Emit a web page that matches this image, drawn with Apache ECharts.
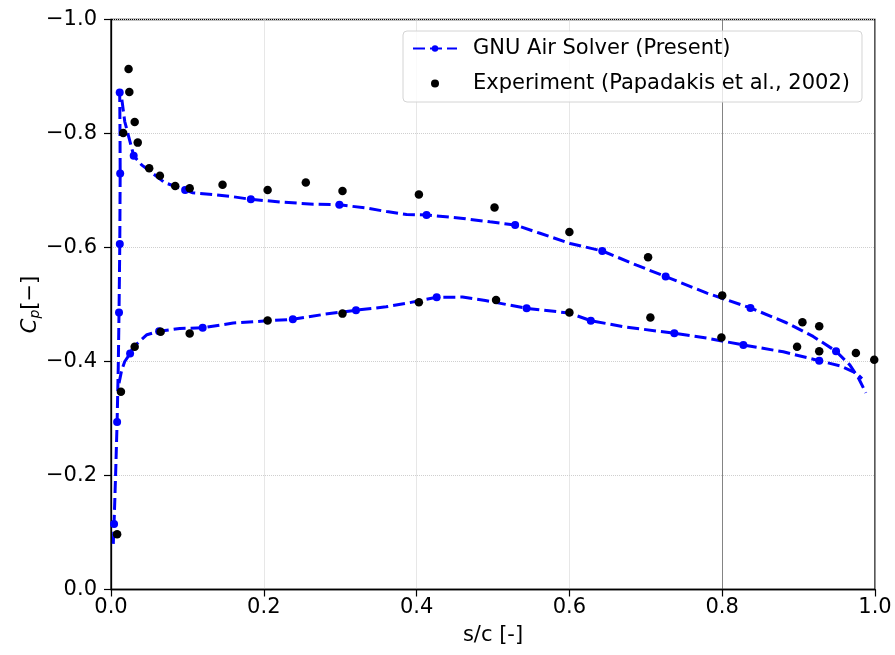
<!DOCTYPE html>
<html>
<head>
<meta charset="utf-8">
<script src="https://cdn.jsdelivr.net/npm/echarts@6/dist/echarts.min.js"></script>
<style>
  html, body { margin: 0; padding: 0; background: #fff; }
  #chart { width: 895px; height: 655px; }
</style>
</head>
<body>
<div id="chart"></div>
<script>
// Solver, suction side: rise along the leading edge, then aft to the trailing edge
const upperS = [0.003, 0.004, 0.006, 0.008, 0.0095, 0.0105, 0.0115, 0.012, 0.0118, 0.0114,
  0.014, 0.018, 0.0297, 0.040, 0.050, 0.070, 0.097, 0.107, 0.134, 0.160,
  0.183, 0.221, 0.265, 0.299, 0.335, 0.361, 0.387, 0.413, 0.461, 0.496,
  0.529, 0.5615, 0.601, 0.643, 0.688, 0.726, 0.780, 0.837, 0.884, 0.919,
  0.949, 0.967, 0.978, 0.988];
const upperCp = [-0.080, -0.115, -0.200, -0.294, -0.390, -0.486, -0.606, -0.730, -0.800, -0.872,
  -0.862, -0.821, -0.761, -0.745, -0.735, -0.714, -0.701, -0.696, -0.693, -0.689,
  -0.6845, -0.680, -0.676, -0.675, -0.669, -0.663, -0.658, -0.657, -0.651, -0.645,
  -0.6395, -0.625, -0.607, -0.594, -0.569, -0.549, -0.520, -0.494, -0.468, -0.444,
  -0.418, -0.394, -0.372, -0.345];
// points of the suction-side curve that carry a marker
const upperMarks = [1, 3, 5, 6, 7, 9, 12, 16, 20, 23, 27, 30, 33, 35, 37, 40];

// Solver, pressure side
const lowerS = [0.0105, 0.014, 0.018, 0.025, 0.029, 0.047, 0.063, 0.090, 0.120, 0.160,
  0.200, 0.238, 0.280, 0.3207, 0.360, 0.390, 0.4263, 0.460, 0.490, 0.544,
  0.600, 0.628, 0.671, 0.7373, 0.780, 0.8277, 0.880, 0.927, 0.955, 0.975, 0.983];
const lowerCp = [-0.362, -0.385, -0.400, -0.414, -0.425, -0.447, -0.453, -0.458, -0.459, -0.4675,
  -0.471, -0.474, -0.483, -0.490, -0.496, -0.503, -0.5126, -0.513, -0.507, -0.4933,
  -0.485, -0.4716, -0.461, -0.4495, -0.441, -0.429, -0.417, -0.4014, -0.392, -0.380, -0.370];
const lowerMarks = [3, 6, 8, 11, 13, 16, 19, 21, 23, 25, 27];

// Measured pressure coefficients (Papadakis et al., 2002)
const expS = [0.008, 0.013, 0.016, 0.023, 0.024, 0.031, 0.031, 0.035, 0.050, 0.065,
  0.064, 0.084, 0.103, 0.103, 0.146, 0.205, 0.205, 0.255, 0.303, 0.303,
  0.403, 0.403, 0.502, 0.504, 0.600, 0.600, 0.703, 0.706, 0.799, 0.800,
  0.898, 0.905, 0.927, 0.927, 0.975, 0.999];
const expCp = [-0.097, -0.347, -0.801, -0.913, -0.873, -0.426, -0.820, -0.784, -0.739, -0.452,
  -0.726, -0.708, -0.704, -0.449, -0.710, -0.701, -0.472, -0.714, -0.699, -0.484,
  -0.693, -0.504, -0.670, -0.508, -0.627, -0.486, -0.583, -0.477, -0.442, -0.516,
  -0.426, -0.469, -0.462, -0.418, -0.415, -0.403];

const xTicks = [0.0, 0.2, 0.4, 0.6, 0.8, 1.0];
const yTicks = [-1.0, -0.8, -0.6, -0.4, -0.2, 0.0];

const SOLVER = 'GNU Air Solver (Present)';
const EXPERIMENT = 'Experiment (Papadakis et al., 2002)';
const FONT = 'DejaVu Sans';
const FS = 21;
const BLUE = '#0000ff';

const zip = (xs, ys) => xs.map((x, i) => [x, ys[i]]);
const pick = (xs, ys, idx) => idx.map(i => [xs[i], ys[i]]);
const fmt = v => {
  const s = Math.abs(v) < 1e-9 ? '0.0' : v.toFixed(1);
  return s.replace('-', '\u2212');
};

const solverLine = {
  type: 'line',
  name: SOLVER,
  showSymbol: false,
  symbol: 'circle',
  symbolSize: 8,
  smooth: false,
  itemStyle: { color: BLUE, opacity: 1 },
  lineStyle: { color: BLUE, width: 3, type: [12, 5], opacity: 1 },
  silent: true,
  z: 2
};

const chart = echarts.init(document.getElementById('chart'), null, { renderer: 'canvas' });
chart.setOption({
  animation: false,
  backgroundColor: '#ffffff',
  textStyle: { fontFamily: FONT },
  grid: {
    left: 111, right: 20, top: 19.5, bottom: 65.5,
    show: true, borderColor: '#000', borderWidth: 1.3,
    containLabel: false
  },
  legend: {
    orient: 'vertical',
    left: 403, top: 31,
    padding: [7, 12, 8, 9],
    itemWidth: 44, itemHeight: 8, itemGap: 14,
    backgroundColor: 'rgba(255,255,255,0.8)',
    borderColor: '#d4d4d4', borderWidth: 1, borderRadius: 4,
    textStyle: { fontFamily: FONT, fontSize: FS, color: '#000', padding: [0, 0, 0, 11] },
    data: [SOLVER, EXPERIMENT],
    selectedMode: false
  },
  xAxis: {
    type: 'value',
    min: 0, max: 1, interval: 0.2,
    name: 's/c [-]',
    nameLocation: 'middle',
    nameGap: 36,
    nameMoveOverlap: false,
    nameTextStyle: { fontFamily: FONT, fontSize: FS, color: '#000' },
    axisLine: { show: true, onZero: false, lineStyle: { color: '#000', width: 1.3 } },
    axisTick: { show: true, length: 7, inside: false, lineStyle: { color: '#000', width: 1.2 } },
    axisLabel: { fontFamily: FONT, fontSize: FS, color: '#000', margin: 8, formatter: v => fmt(v) },
    splitLine: { show: true, lineStyle: { color: '#cfcfcf', width: 1, type: 'dotted' } }
  },
  yAxis: {
    type: 'value',
    min: -1, max: 0, interval: 0.2,
    inverse: true,
    name: '{c|C}{p|p}{b|[\u2212]}',
    nameLocation: 'middle',
    nameRotate: 90,
    nameGap: 69,
    nameMoveOverlap: false,
    nameTextStyle: {
      fontFamily: FONT, fontSize: FS, color: '#000',
      rich: {
        c: { fontFamily: FONT, fontSize: FS, fontStyle: 'italic', color: '#000' },
        p: { fontFamily: FONT, fontSize: 14, fontStyle: 'italic', color: '#000', verticalAlign: 'bottom', padding: [8, 0, 0, 0] },
        b: { fontFamily: FONT, fontSize: FS, color: '#000' }
      }
    },
    axisLine: { show: true, onZero: false, lineStyle: { color: '#000', width: 1.3 } },
    axisTick: { show: true, length: 7, inside: false, lineStyle: { color: '#000', width: 1.2 } },
    axisLabel: { fontFamily: FONT, fontSize: FS, color: '#000', margin: 14, formatter: v => fmt(v) },
    splitLine: { show: true, lineStyle: { color: '#cfcfcf', width: 1, type: 'dotted' } }
  },
  series: [
    Object.assign({}, solverLine, { data: zip(upperS, upperCp) }),
    Object.assign({}, solverLine, { data: zip(lowerS, lowerCp) }),
    {
      type: 'scatter',
      name: SOLVER,
      symbol: 'circle',
      symbolSize: 8,
      itemStyle: { color: BLUE, opacity: 1 },
      silent: true,
      z: 3,
      data: pick(upperS, upperCp, upperMarks).concat(pick(lowerS, lowerCp, lowerMarks))
    },
    {
      type: 'scatter',
      name: EXPERIMENT,
      symbol: 'circle',
      symbolSize: 8.5,
      itemStyle: { color: '#000', opacity: 1 },
      silent: true,
      z: 4,
      data: zip(expS, expCp),
      markLine: {
        silent: true,
        symbol: 'none',
        label: { show: false },
        lineStyle: { color: '#222', width: 1, type: 'dotted' },
        data: [{ xAxis: xTicks[4] }],
        z: 1
      }
    }
  ]
});
</script>
</body>
</html>
